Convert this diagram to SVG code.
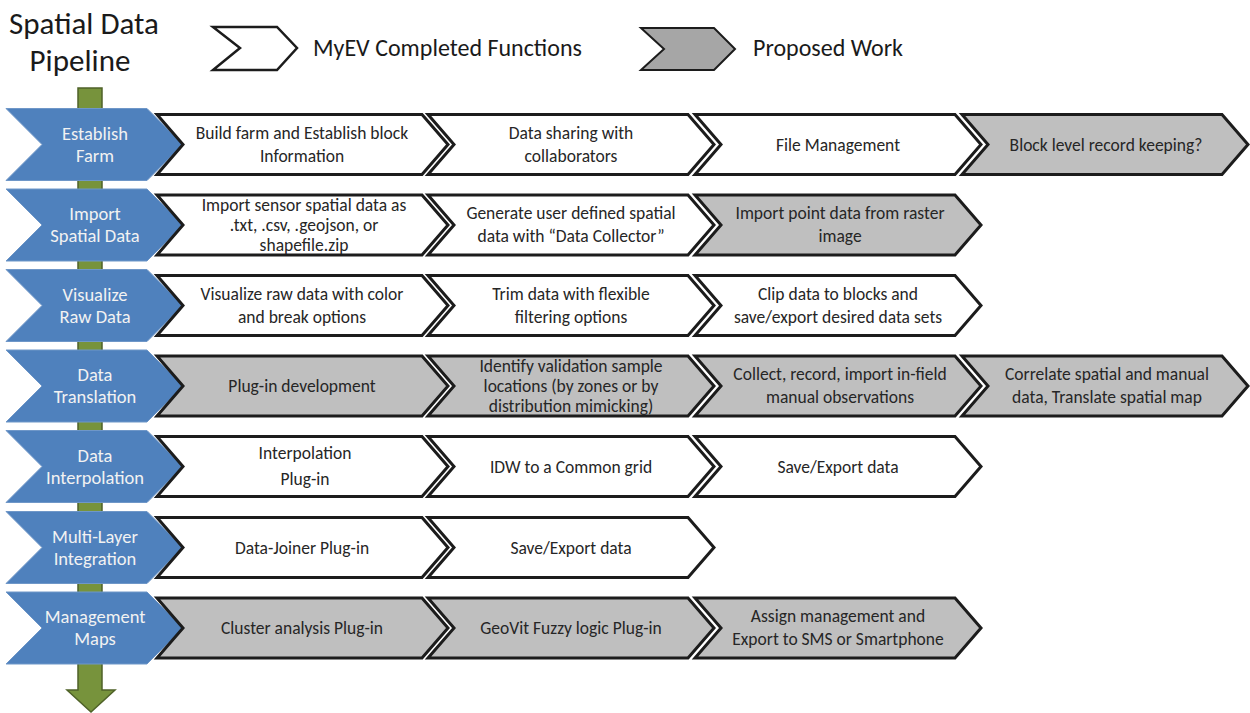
<svg xmlns="http://www.w3.org/2000/svg" width="1250" height="713" viewBox="0 0 1250 713">
<style>
.w{fill:#ffffff;stroke:#1c1c1c;stroke-width:3;stroke-linejoin:miter}
.g{fill:#bfbfbf;stroke:#1c1c1c;stroke-width:3;stroke-linejoin:miter}
.b{fill:#4f81bd;stroke:#6f97c8;stroke-width:1}
.t{font-family:Calibri,Carlito,Lato,sans-serif;font-size:17.5px;fill:#262626;text-anchor:middle}
.bt{font-family:Calibri,Carlito,Lato,sans-serif;font-size:18.5px;fill:#f2f2f2;text-anchor:middle}
.title{font-family:Calibri,Carlito,Lato,sans-serif;font-size:31px;fill:#1a1a1a;text-anchor:middle}
.leg{font-family:Calibri,Carlito,Lato,sans-serif;font-size:24px;fill:#1a1a1a}
</style>
<defs>
<path id="blue" d="M6,-36 H147 L183,0 L147,36 H6 L42,0 Z"/>
</defs>

<g id="title">
<text class="title" x="84" y="34">Spatial Data</text>
<text class="title" x="80" y="71">Pipeline</text>
</g>

<g id="legend-completed">
<path d="M213,27 H277 L297,48 L277,70 H213 L240,48 Z" fill="#ffffff" stroke="#1c1c1c" stroke-width="2.5"/>
<text class="leg" x="313" y="56">MyEV Completed Functions</text>
</g>
<g id="legend-proposed">
<path d="M641,28 H714 L735,49 L714,70 H641 L664,49 Z" fill="#a6a6a6" stroke="#1c1c1c" stroke-width="2"/>
<text class="leg" x="753" y="56">Proposed Work</text>
</g>

<g id="connectors">
<path d="M78,88 H102 V690 H115 L91,712 L67,690 H78 Z" fill="#77933c" stroke="#4f6228" stroke-width="1.5"/>
</g>

<!-- Row 1 -->
<g id="row1" transform="translate(0,144.5)">
<g id="establish-farm"><use href="#blue" class="b"/><text class="bt" x="95" y="-5">Establish</text><text class="bt" x="95" y="17">Farm</text></g>
<g id="r1c1"><path class="w" d="M157,-30 H422 L448,0 L422,30 H157 L183,0 Z"/><text class="t" x="302" y="-6">Build farm and Establish block</text><text class="t" x="302" y="17">Information</text></g>
<g id="r1c2"><path class="w" d="M428,-30 H688 L714,0 L688,30 H428 L454,0 Z"/><text class="t" x="571" y="-6">Data sharing with</text><text class="t" x="571" y="17">collaborators</text></g>
<g id="r1c3"><path class="w" d="M695,-30 H955 L981,0 L955,30 H695 L721,0 Z"/><text class="t" x="838" y="6">File Management</text></g>
<g id="r1c4"><path class="g" d="M962,-30 H1222 L1248,0 L1222,30 H962 L988,0 Z"/><text class="t" x="1106" y="6">Block level record keeping?</text></g>
</g>

<!-- Row 2 -->
<g id="row2" transform="translate(0,225)">
<g id="import-spatial-data"><use href="#blue" class="b"/><text class="bt" x="95" y="-5">Import</text><text class="bt" x="95" y="17">Spatial Data</text></g>
<g id="r2c1"><path class="w" d="M157,-30 H422 L448,0 L422,30 H157 L183,0 Z"/><text class="t" x="304" y="-14">Import sensor spatial data as</text><text class="t" x="304" y="6">.txt, .csv, .geojson, or</text><text class="t" x="304" y="26">shapefile.zip</text></g>
<g id="r2c2"><path class="w" d="M428,-30 H688 L714,0 L688,30 H428 L454,0 Z"/><text class="t" x="571" y="-6">Generate user defined spatial</text><text class="t" x="571" y="17">data with “Data Collector”</text></g>
<g id="r2c3"><path class="g" d="M695,-30 H955 L981,0 L955,30 H695 L721,0 Z"/><text class="t" x="840" y="-6">Import point data from raster</text><text class="t" x="840" y="17">image</text></g>
</g>

<!-- Row 3 -->
<g id="row3" transform="translate(0,305.5)">
<g id="visualize-raw-data"><use href="#blue" class="b"/><text class="bt" x="95" y="-5">Visualize</text><text class="bt" x="95" y="17">Raw Data</text></g>
<g id="r3c1"><path class="w" d="M157,-30 H422 L448,0 L422,30 H157 L183,0 Z"/><text class="t" x="302" y="-6">Visualize raw data with color</text><text class="t" x="302" y="17">and break options</text></g>
<g id="r3c2"><path class="w" d="M428,-30 H688 L714,0 L688,30 H428 L454,0 Z"/><text class="t" x="571" y="-6">Trim data with flexible</text><text class="t" x="571" y="17">filtering options</text></g>
<g id="r3c3"><path class="w" d="M695,-30 H955 L981,0 L955,30 H695 L721,0 Z"/><text class="t" x="838" y="-6">Clip data to blocks and</text><text class="t" x="838" y="17">save/export desired data sets</text></g>
</g>

<!-- Row 4 -->
<g id="row4" transform="translate(0,386)">
<g id="data-translation"><use href="#blue" class="b"/><text class="bt" x="95" y="-5">Data</text><text class="bt" x="95" y="17">Translation</text></g>
<g id="r4c1"><path class="g" d="M157,-30 H422 L448,0 L422,30 H157 L183,0 Z"/><text class="t" x="302" y="6">Plug-in development</text></g>
<g id="r4c2"><path class="g" d="M428,-30 H688 L714,0 L688,30 H428 L454,0 Z"/><text class="t" x="571" y="-14">Identify validation sample</text><text class="t" x="571" y="6">locations (by zones or by</text><text class="t" x="571" y="26">distribution mimicking)</text></g>
<g id="r4c3"><path class="g" d="M695,-30 H955 L981,0 L955,30 H695 L721,0 Z"/><text class="t" x="840" y="-6">Collect, record, import in-field</text><text class="t" x="840" y="17">manual observations</text></g>
<g id="r4c4"><path class="g" d="M962,-30 H1222 L1248,0 L1222,30 H962 L988,0 Z"/><text class="t" x="1107" y="-6">Correlate spatial and manual</text><text class="t" x="1107" y="17">data, Translate spatial map</text></g>
</g>

<!-- Row 5 -->
<g id="row5" transform="translate(0,466.5)">
<g id="data-interpolation"><use href="#blue" class="b"/><text class="bt" x="95" y="-5">Data</text><text class="bt" x="95" y="17">Interpolation</text></g>
<g id="r5c1"><path class="w" d="M157,-30 H422 L448,0 L422,30 H157 L183,0 Z"/><text class="t" x="305" y="-8">Interpolation</text><text class="t" x="305" y="18">Plug-in</text></g>
<g id="r5c2"><path class="w" d="M428,-30 H688 L714,0 L688,30 H428 L454,0 Z"/><text class="t" x="571" y="6">IDW to a Common grid</text></g>
<g id="r5c3"><path class="w" d="M695,-30 H955 L981,0 L955,30 H695 L721,0 Z"/><text class="t" x="838" y="6">Save/Export data</text></g>
</g>

<!-- Row 6 -->
<g id="row6" transform="translate(0,547.5)">
<g id="multi-layer-integration"><use href="#blue" class="b"/><text class="bt" x="95" y="-5">Multi-Layer</text><text class="bt" x="95" y="17">Integration</text></g>
<g id="r6c1"><path class="w" d="M157,-30 H422 L448,0 L422,30 H157 L183,0 Z"/><text class="t" x="302" y="6">Data-Joiner Plug-in</text></g>
<g id="r6c2"><path class="w" d="M428,-30 H688 L714,0 L688,30 H428 L454,0 Z"/><text class="t" x="571" y="6">Save/Export data</text></g>
</g>

<!-- Row 7 -->
<g id="row7" transform="translate(0,628)">
<g id="management-maps"><use href="#blue" class="b"/><text class="bt" x="95" y="-5">Management</text><text class="bt" x="95" y="17">Maps</text></g>
<g id="r7c1"><path class="g" d="M157,-30 H422 L448,0 L422,30 H157 L183,0 Z"/><text class="t" x="302" y="6">Cluster analysis Plug-in</text></g>
<g id="r7c2"><path class="g" d="M428,-30 H688 L714,0 L688,30 H428 L454,0 Z"/><text class="t" x="571" y="6">GeoVit Fuzzy logic Plug-in</text></g>
<g id="r7c3"><path class="g" d="M695,-30 H955 L981,0 L955,30 H695 L721,0 Z"/><text class="t" x="838" y="-6">Assign management and</text><text class="t" x="838" y="17">Export to SMS or Smartphone</text></g>
</g>
</svg>
